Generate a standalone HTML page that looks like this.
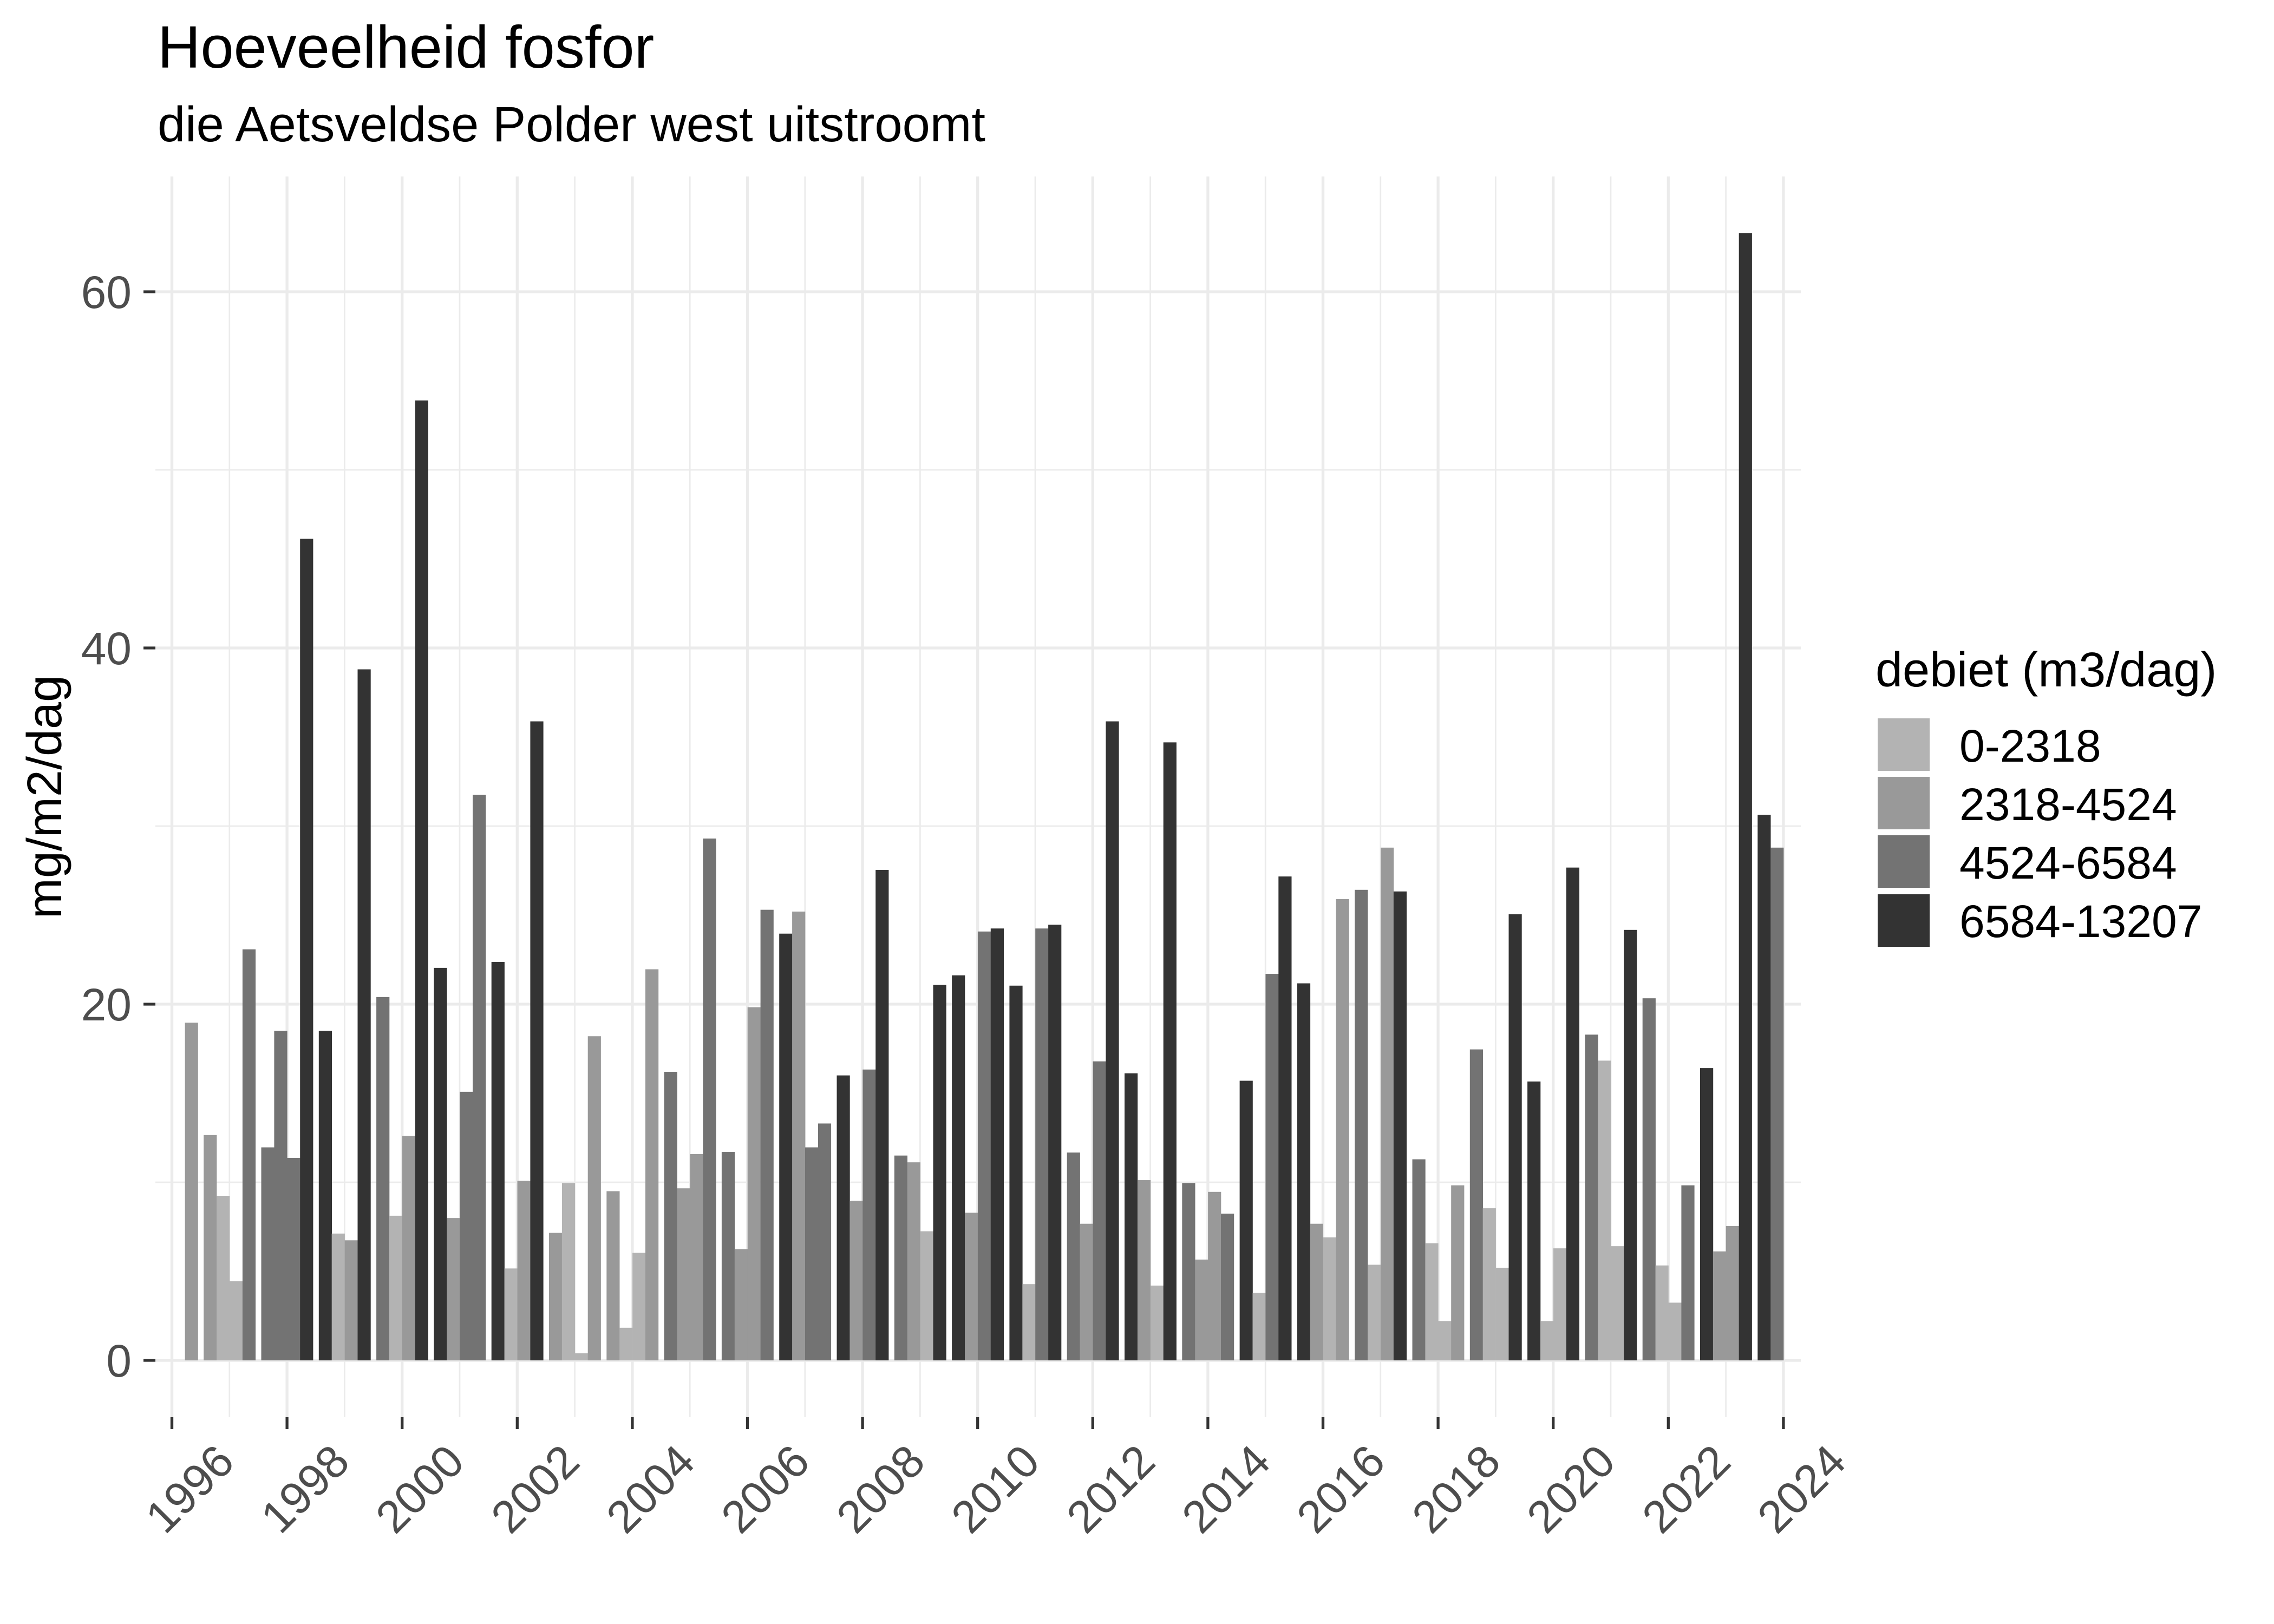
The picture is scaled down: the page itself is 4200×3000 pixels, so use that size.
<!DOCTYPE html>
<html><head><meta charset="utf-8"><style>
html,body{margin:0;padding:0;background:#fff;}
svg{display:block;font-family:"Liberation Sans",Arial,sans-serif;}
</style></head><body>
<svg id="s" width="4200" height="3000" viewBox="0 0 4200 3000" xmlns="http://www.w3.org/2000/svg">
<rect width="4200" height="3000" fill="#fff"/>
<g id="grid"></g>
<g id="bars"></g>
<g id="ticks"></g>
<text x="291" y="125" font-size="110" fill="#000">Hoeveelheid fosfor</text>
<text x="291" y="261" font-size="92" fill="#000">die Aetsveldse Polder west uitstroomt</text>
<text transform="translate(113,1472) rotate(-90)" text-anchor="middle" font-size="90" fill="#000">mg/m2/dag</text>
<g font-size="84" fill="#4d4d4d" text-anchor="end">
<text x="243" y="569">60</text>
<text x="243" y="1227">40</text>
<text x="243" y="1885">20</text>
<text x="243" y="2543">0</text>
</g>
<g id="xl" font-size="84" fill="#4d4d4d" text-anchor="end">
<text transform="translate(394,2662) rotate(-45)" dy="0.72em">1996</text>
<text transform="translate(607,2662) rotate(-45)" dy="0.72em">1998</text>
<text transform="translate(819,2662) rotate(-45)" dy="0.72em">2000</text>
<text transform="translate(1032,2662) rotate(-45)" dy="0.72em">2002</text>
<text transform="translate(1245,2662) rotate(-45)" dy="0.72em">2004</text>
<text transform="translate(1457,2662) rotate(-45)" dy="0.72em">2006</text>
<text transform="translate(1670,2662) rotate(-45)" dy="0.72em">2008</text>
<text transform="translate(1882,2662) rotate(-45)" dy="0.72em">2010</text>
<text transform="translate(2095,2662) rotate(-45)" dy="0.72em">2012</text>
<text transform="translate(2308,2662) rotate(-45)" dy="0.72em">2014</text>
<text transform="translate(2520,2662) rotate(-45)" dy="0.72em">2016</text>
<text transform="translate(2733,2662) rotate(-45)" dy="0.72em">2018</text>
<text transform="translate(2945,2662) rotate(-45)" dy="0.72em">2020</text>
<text transform="translate(3158,2662) rotate(-45)" dy="0.72em">2022</text>
<text transform="translate(3371,2662) rotate(-45)" dy="0.72em">2024</text>
</g>
<text x="3464" y="1268" font-size="90" fill="#000">debiet (m3/dag)</text>
<rect x="3468" y="1327" width="96" height="97" fill="#b3b3b3"/>
<rect x="3468" y="1435" width="96" height="97" fill="#999999"/>
<rect x="3468" y="1543" width="96" height="97" fill="#737373"/>
<rect x="3468" y="1652" width="96" height="97" fill="#333333"/>
<g font-size="84" fill="#000">
<text x="3619" y="1407">0-2318</text>
<text x="3619" y="1515">2318-4524</text>
<text x="3619" y="1623">4524-6584</text>
<text x="3619" y="1731">6584-13207</text>
</g>
</svg>
<script>
(function(){
var NS="http://www.w3.org/2000/svg";
function el(p,t,a){var e=document.createElementNS(NS,t);for(var k in a)e.setAttribute(k,a[k]);p.appendChild(e);return e;}
var grid=document.getElementById("grid"),bars=document.getElementById("bars"),ticks=document.getElementById("ticks");
var L=287,R=3326,T=326,B=2618;
function Y(v){return 2513-v*32.9;}
[10,30,50].forEach(function(v){el(grid,"line",{x1:L,x2:R,y1:Y(v),y2:Y(v),stroke:"#ebebeb","stroke-width":2.7});});
for(var yr=1997;yr<=2023;yr+=2){var x=317.5+(yr-1996)*106.3;el(grid,"line",{x1:x,x2:x,y1:T,y2:B,stroke:"#ebebeb","stroke-width":2.7});}
[0,20,40,60].forEach(function(v){el(grid,"line",{x1:L,x2:R,y1:Y(v),y2:Y(v),stroke:"#ebebeb","stroke-width":5.3});
el(ticks,"line",{x1:265,x2:287,y1:Y(v),y2:Y(v),stroke:"#333","stroke-width":5.3});});
for(var yr=1996;yr<=2024;yr+=2){var x=317.5+(yr-1996)*106.3;el(grid,"line",{x1:x,x2:x,y1:T,y2:B,stroke:"#ebebeb","stroke-width":5.3});
el(ticks,"line",{x1:x,x2:x,y1:B,y2:B+22,stroke:"#333","stroke-width":5.3});}
var C=[null,"#b3b3b3","#999999","#737373","#333333"];
var D=[
[null,null,null,[2,18.96]],
[[2,12.65],[1,9.24],[1,4.45],[3,23.08]],
[[3,11.96],[3,18.5],[3,11.37],[4,46.13]],
[[4,18.5],[1,7.12],[2,6.74],[4,38.8]],
[[3,20.4],[1,8.12],[2,12.6],[4,53.9]],
[[4,22.04],[2,7.99],[3,15.08],[3,31.75]],
[[4,22.37],[1,5.16],[2,10.08],[4,35.88]],
[[2,7.16],[1,9.96],[1,0.4],[2,18.2]],
[[2,9.5],[1,1.83],[1,6.04],[2,21.96]],
[[3,16.2],[2,9.66],[2,11.58],[3,29.3]],
[[3,11.7],[2,6.25],[2,19.83],[3,25.3]],
[[4,23.96],[2,25.2],[3,11.96],[3,13.3]],
[[4,16.0],[2,8.96],[3,16.33],[4,27.54]],
[[3,11.5],[2,11.12],[1,7.25],[4,21.08]],
[[4,21.62],[2,8.29],[3,24.08],[4,24.25]],
[[4,21.04],[1,4.28],[3,24.25],[4,24.46]],
[[3,11.67],[2,7.67],[3,16.79],[4,35.88]],
[[4,16.12],[2,10.12],[1,4.2],[4,34.7]],
[[3,9.96],[2,5.66],[2,9.46],[3,8.24]],
[[4,15.7],[1,3.79],[3,21.7],[4,27.17]],
[[4,21.17],[2,7.67],[1,6.91],[2,25.9]],
[[3,26.42],[1,5.37],[2,28.79],[4,26.33]],
[[3,11.29],[1,6.58],[1,2.21],[2,9.83]],
[[3,17.46],[1,8.54],[1,5.2],[4,25.05]],
[[4,15.66],[1,2.21],[1,6.29],[4,27.67]],
[[3,18.29],[1,16.83],[1,6.41],[4,24.17]],
[[3,20.33],[1,5.33],[1,3.24],[3,9.83]],
[[4,16.41],[2,6.12],[2,7.54],[4,63.3]],
[[4,30.63],[3,28.79]]
];
for(var i=0;i<D.length;i++){var g=i-1;for(var s=0;s<D[i].length;s++){var d=D[i][s];if(!d)continue;
var x=376.2+106.3*g+23.9*s,y=Y(d[1]);el(bars,"rect",{x:x,y:y,width:24.2,height:2513-y,fill:C[d[0]]});}}
})();
</script>
</body></html>
